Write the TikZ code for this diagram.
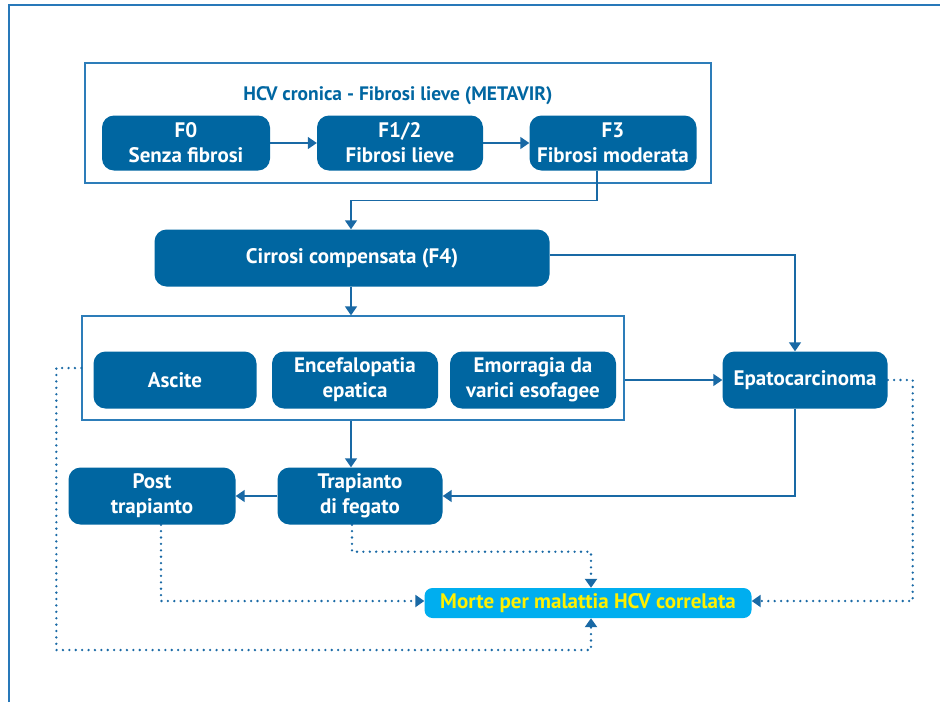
\documentclass[tikz,border=0pt]{standalone}
\usepackage{fontspec}
\setmainfont{PT Sans}
\usetikzlibrary{arrows.meta,calc}
\definecolor{boxblue}{RGB}{0,102,161}
\definecolor{lineblue}{RGB}{25,105,165}
\definecolor{grpblue}{RGB}{45,125,185}
\definecolor{framblue}{RGB}{40,120,185}
\definecolor{morteblue}{RGB}{0,174,239}
\definecolor{morteyel}{RGB}{255,240,0}
\begin{document}
\begin{tikzpicture}[x=1pt,y=-1pt,
  every node/.style={font=\fontsize{21}{25}\selectfont\bfseries, align=center, inner sep=0pt},
  bluebox/.style={draw=none, fill=boxblue, text=white, rounded corners=12pt},
  grpbox/.style={draw=grpblue, line width=1.3pt, fill=none},
  conn/.style={draw=lineblue, line width=1.5pt, -{Triangle[length=9pt,width=12pt]}},
  dotconn/.style={draw=lineblue, line width=2.6pt, line cap=round, dash pattern=on 0pt off 6.4pt, -{Triangle[length=9pt,width=12pt,line cap=butt]}}
]
\useasboundingbox (0,0) rectangle (940,702);
% outer frame
\draw[framblue, line width=2pt] (9,702) -- (9,5) -- (940,5);
% group boxes
\node[grpbox, minimum width=626pt, minimum height=120pt] (grp1) at (398,123) {};
\node[grpbox, minimum width=542pt, minimum height=104pt] (grp2) at (353,368) {};
\node[text=boxblue, font=\fontsize{19.5}{23}\selectfont\bfseries] (title) at (398,96) {HCV cronica - Fibrosi lieve (METAVIR)};
% stage boxes
\node[bluebox, minimum width=168pt, minimum height=55pt] (f0) at (186,143) {F0\\Senza fibrosi};
\node[bluebox, minimum width=166pt, minimum height=55pt] (f12) at (400,143) {F1/2\\Fibrosi lieve};
\node[bluebox, minimum width=167pt, minimum height=55pt] (f3) at (613,143) {F3\\Fibrosi moderata};
\node[bluebox, minimum width=395pt, minimum height=57pt] (cir) at (352,258) {Cirrosi compensata (F4)};
\node[bluebox, minimum width=163pt, minimum height=57pt] (asc) at (175,380) {Ascite};
\node[bluebox, minimum width=166pt, minimum height=57pt] (enc) at (355,380) {Encefalopatia\\epatica};
\node[bluebox, minimum width=166pt, minimum height=57pt] (emo) at (533,380) {Emorragia da\\varici esofagee};
\node[bluebox, minimum width=165pt, minimum height=57pt] (epa) at (805,380) {Epatocarcinoma};
\node[bluebox, minimum width=165pt, minimum height=57pt] (trap) at (360,496) {Trapianto\\di fegato};
\node[bluebox, minimum width=167pt, minimum height=57pt] (post) at (152,496) {Post\\trapianto};
\node[bluebox, fill=morteblue, text=morteyel, rounded corners=8pt, minimum width=327pt, minimum height=30pt] (morte) at (588,603) {Morte per malattia HCV correlata};
% solid connectors
\draw[conn] (f0.east) -- (f12.west);
\draw[conn] (f12.east) -- (f3.west);
\draw[conn] ([xshift=-16pt]f3.south) -- ++(0,30) -| ([xshift=-1pt]cir.north);
\draw[conn] ([yshift=3pt]cir.east) -| ([xshift=-10pt]epa.north);
\draw[conn] ([xshift=-1pt]cir.south) -- ([xshift=-1pt]cir.south |- grp2.north);
\draw[conn] (grp2.east |- epa.west) -- (epa.west);
\draw[conn] ([xshift=-1pt]cir.south |- grp2.south) -- ([xshift=-1pt]cir.south |- trap.north);
\draw[conn] (trap.west) -- (post.east);
\draw[conn] ([xshift=-10pt]epa.south) |- (trap.east);
% dotted connectors
\draw[dotconn] ([xshift=-8pt]trap.south) -- ++(0,27) -| ([xshift=3pt]morte.north);
\draw[dotconn] ([xshift=9pt]post.south) |- ([yshift=2pt]morte.west);
\draw[dotconn] (grp2.west) -- ++(-25,0) -- ++(0,282) -| ([xshift=3pt]morte.south);
\draw[dotconn] (epa.east) -- ++(25,0) |- ([yshift=2pt]morte.east);
\end{tikzpicture}
\end{document}
